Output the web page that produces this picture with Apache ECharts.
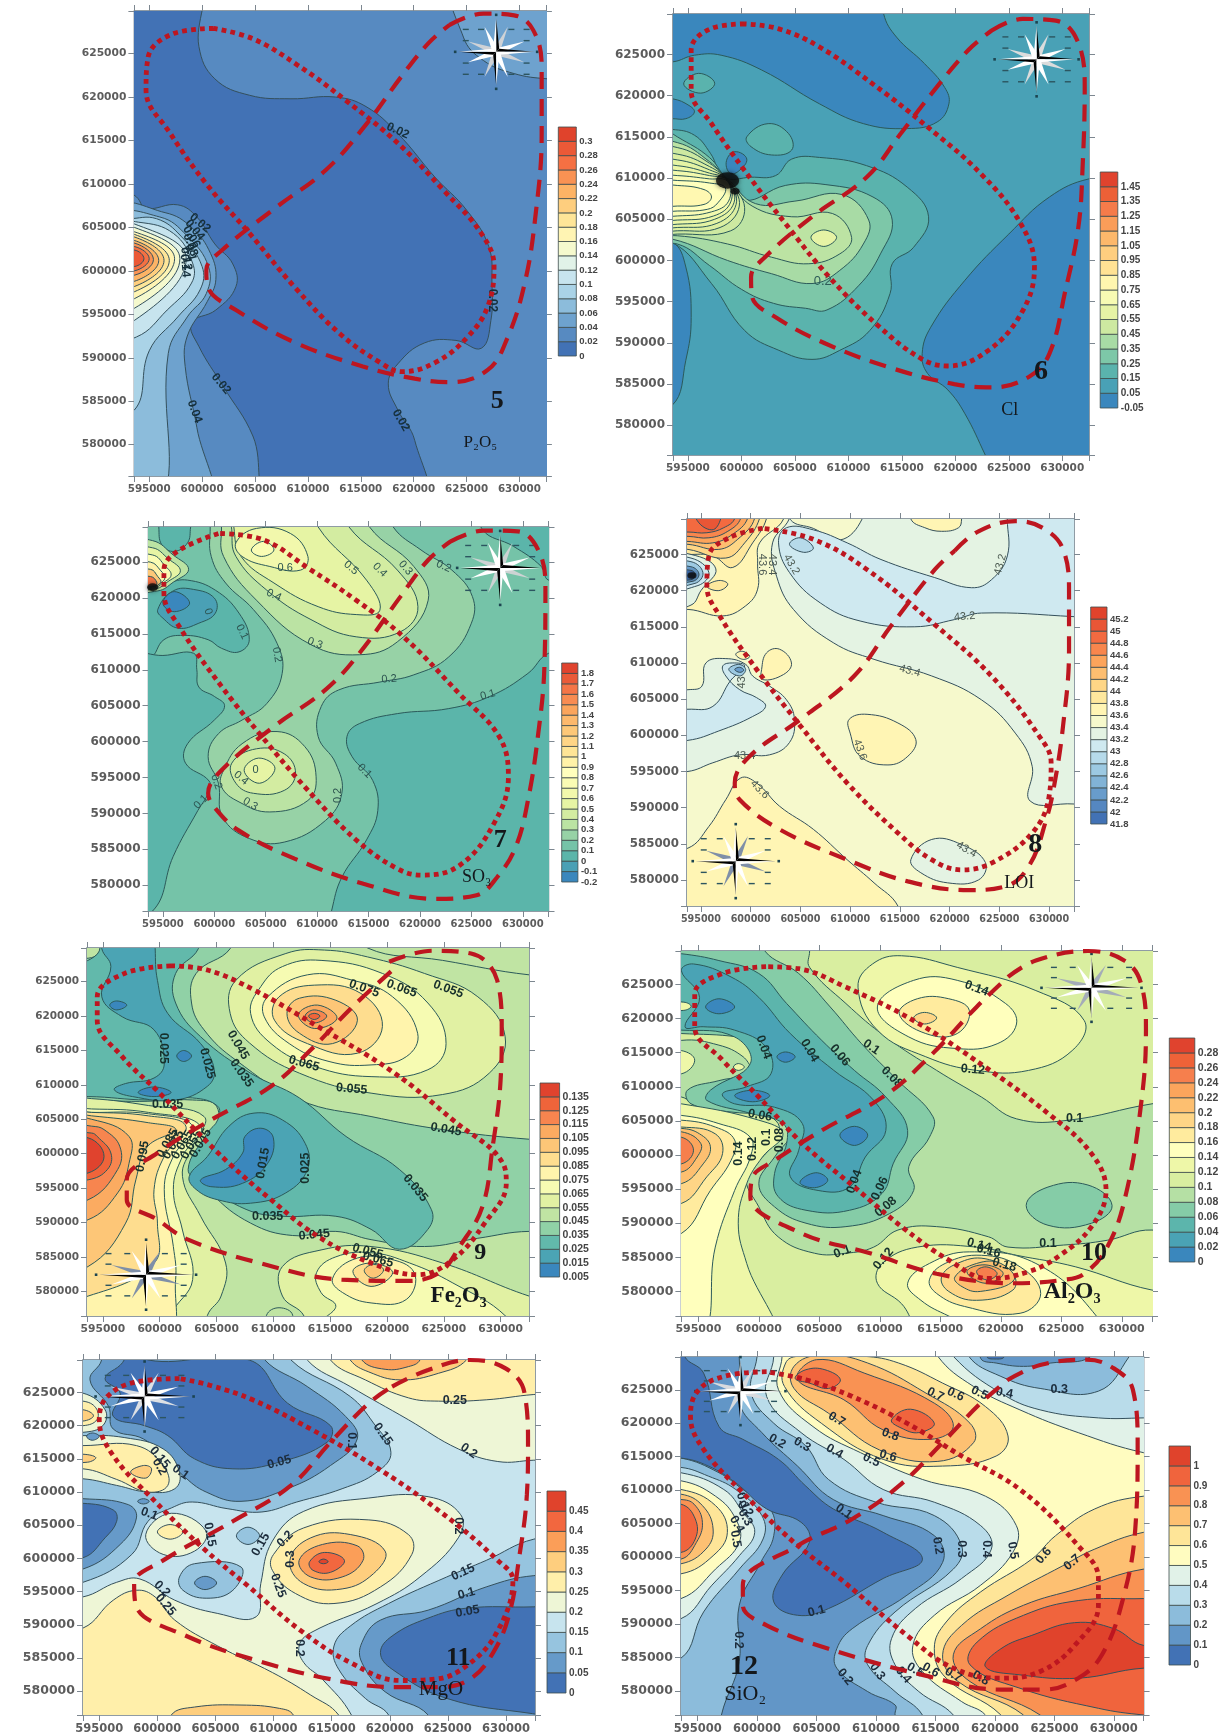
<!DOCTYPE html>
<html><head><meta charset="utf-8">
<style>html,body{margin:0;padding:0;background:#fff}#c{width:1223px;height:1735px}</style>
<script src="https://cdn.jsdelivr.net/npm/echarts@6/dist/echarts.min.js"></script>
</head><body><div id="c"></div>
<script>
// ---- Map extent, km (tick labels show metres) ----
const xRange=[593.6,632.5], yRange=[576.4,629.9];

// ---- Colour-bar labels ----
const p5Bar=['0','0.02','0.04','0.06','0.08','0.1','0.12','0.14','0.16','0.18','0.2','0.22','0.24','0.26','0.28','0.3'];
const p6Bar=['-0.05','0.05','0.15','0.25','0.35','0.45','0.55','0.65','0.75','0.85','0.95','1.05','1.15','1.25','1.35','1.45'];
const p7Bar=['-0.2','-0.1','0','0.1','0.2','0.3','0.4','0.5','0.6','0.7','0.8','0.9','1','1.1','1.2','1.3','1.4','1.5','1.6','1.7','1.8'];
const p8Bar=['41.8','42','42.2','42.4','42.6','42.8','43','43.2','43.4','43.6','43.8','44','44.2','44.4','44.6','44.8','45','45.2'];
const p9Bar=['0.005','0.015','0.025','0.035','0.045','0.055','0.065','0.075','0.085','0.095','0.105','0.115','0.125','0.135'];
const p10Bar=['0','0.02','0.04','0.06','0.08','0.1','0.12','0.14','0.16','0.18','0.2','0.22','0.24','0.26','0.28'];
const p11Bar=['0','0.05','0.1','0.15','0.2','0.25','0.3','0.35','0.4','0.45'];
const p12Bar=['0','0.1','0.2','0.3','0.4','0.5','0.6','0.7','0.8','0.9','1'];

// ---- Contour regions: [lower level of the band, [x,y, x,y, ...] in km], painted in order ----
const p5Regions=[
[0,[599.5,633,599.7,625.8,601.2,622.1,604.5,620.2,608.4,619.8,612.6,620,615.5,618.9,618.5,615.8,622,610.8,625,607,627.1,602.8,627.4,598.6,627.3,594.3,626.4,591.1,624,592,621,591.7,618.5,589.3,617.6,587,618.5,584,620.1,580.5,620.8,573,606.8,573,604.8,581,602,586.7,599.7,591.3,599,594,601.3,595.5,603.2,598.2,602.9,600.8,601.2,603.1,599.5,606.2,597.7,607.6,594.7,607.2,593.8,608.5,590,612,590,633]],
[0.04,[624,633,624.7,626.9,626.6,624.2,629.5,622.7,632.6,622.1,636,622,636,633]],
[0.04,[600.6,573,599.5,582,598.4,589,598.6,592.5,600.5,596.5,601.3,599,600.8,602,599,605,596.5,606.7,592,607,590,575]],
[0.06,[596,573,596.8,590.5,598.6,594.7,600.4,597.4,600.6,600.5,598.6,604,596,606.2,592,606,590,575]],
[0.08,[593.6,584,595,590.8,597.7,594.7,599.8,597.8,600,600.5,598,604,595.7,606,593,606,590,606,590,584]],
[0.1,[593.8,592.4,596.7,595.5,599,598.6,599.1,600.9,597.3,604.3,594,605.6,590,605.5,590,592]],
[0.12,[590,605.4,593.6,605.4,598.5,601.4,593.6,594.3,590,594.3]],
[0.14,[590,605,593.6,605,597.9,601.4,593.6,595.7,590,595.7]],
[0.16,[590,604.5,593.6,604.5,597.4,601.4,593.6,596.8,590,596.8]],
[0.18,[590,604.2,593.6,604.2,596.9,601.2,593.6,597.6,590,597.6]],
[0.2,[590,603.9,593.6,603.9,596.4,601.2,593.6,598.2,590,598.2]],
[0.22,[590,603.5,593.6,603.5,595.9,601.2,593.6,598.8,590,598.8]],
[0.24,[590,603.2,593.6,603.2,595.4,601.3,593.6,599.5,590,599.5]],
[0.26,[590,602.8,593.6,602.8,595,601.4,593.6,600,590,600]],
[0.28,[590,602.4,593.6,602.4,594.5,601.4,593.6,600.5,590,600.5]]
];
const p6Regions=[
[-0.05,[613.3,633,613.3,629.9,614.5,627.1,617.1,623.9,619,621,619.4,619,618.3,616.8,615.5,616,611.4,616.6,607.3,619,601.9,623.1,598.1,624.9,595.6,624.9,593.6,624.1,590,624,590,633]],
[-0.05,[590,620,593.6,619.6,595.1,618.8,595.6,618,594.8,617.2,593.5,617.2,590,617]],
[-0.05,[590,602,593.5,602.2,594.8,599.2,595.3,593.1,594.8,587.9,593.5,582.4,590,582]],
[-0.05,[636,610,632.5,609.9,628.8,607.7,625,603.2,620.9,597.6,617.7,591.9,616.9,588.7,617.4,586.3,619.3,584.3,620.9,581.4,622.8,576.4,624,573,636,573]],
[0.15,[600.5,615,602.5,616.6,604.4,615.4,604.7,613.4,602.8,612.8,600.9,613.8]],
[0.15,[594.6,621.4,596,622.7,597.5,621.5,596.2,620.3]],
[0.15,[590,616,593.5,615.9,595.6,615.2,597.1,613,598.4,610.1,600.9,610.1,603.2,610.3,604.7,612.3,607.3,612.5,611.7,611.5,615.5,608.9,617.5,605.3,616.1,601.6,614.1,599.6,613.9,596,612,591.5,609.2,589.1,606.6,588,603.5,589.1,600.3,591.5,597.2,597.2,593.5,602.2,590,602]],
[-0.05,[598.6,612.1,599.4,613.2,600.5,612.3,599.7,610.8,598.9,610.6]],
[0.25,[600.3,607.3,604.1,609.1,607.9,609.2,612.3,607.7,614.1,604.9,613,600.8,611,597,608,594,606,594.2,603,594.8,600,596.5,597,599.4,594,602,590,602,590,618,594,615,597,612.5,598.5,610]],
[0.35,[601.3,606.9,605,607.2,609.4,608,611.9,604.9,611.4,602,609.2,598.8,606.6,597.2,602.8,598.4,598.7,600,593.5,602.6,590,602.6,590,615,596,612.5,598.6,610]],
[0.4,[590,614.4,594,614.3,597,612,598.7,609.8,601,606.6,604.7,605.3,608.5,605.7,610.3,602.8,609.2,600.8,606.3,599.6,602.8,600.4,598.7,602,594,603,590,603]],
[0.45,[590,613.8,594,613.7,597,611.8,598.7,609.7,600.3,606.4,599,603.6,594,603.2,590,603.2]],
[0.55,[606.5,602.8,607.7,603.7,608.9,602.8,607.7,601.7]],
[0.5,[590,613,594,612.9,597,611.4,598.7,609.7,599.8,606.6,598,604,594,603.6,590,603.6]],
[0.54,[590,612.3,594,612.2,597,611,598.7,609.7,599.5,606.8,597.7,604.5,594,604,590,604]],
[0.58,[590,611.6,594,611.5,597,610.6,598.7,609.7,599.3,607,597.5,605,594,604.4,590,604.4]],
[0.62,[590,611,594,610.9,597,610.3,598.7,609.7,599,607.1,597.4,605.4,594,604.9,590,604.9]],
[0.66,[590,610.4,594,610.3,597,609.9,598.7,609.6,598.8,607.2,597.2,605.9,594,605.4,590,605.4]],
[0.7,[590,609.8,594,609.7,597,609.4,598.5,608.8,597.8,607,596.8,606.2,594,606,590,606]],
[0.74,[590,609.2,594,609.1,596.5,608.6,597.2,607.7,596.5,606.8,594,606.6,590,606.6]]
];
const p7Regions=[
[0,[611.4,576.4,612.4,581.1,614.8,586.3,615.9,590.4,615.4,594.6,613.4,597.9,612.9,600.7,614.1,602.5,617.8,603.9,622.8,604.6,626.8,606.3,630.5,609.5,632.5,612.3,636,613,636,573,611,573]],
[0,[626.1,633,626.1,629.5,629.1,627.2,631.8,624.4,632.5,622.5,636,622,636,633]],
[0,[590,611,593.7,611.6,595.1,614.2,597,614.8,599.4,614.2,600.7,613,602.4,612.5,603.4,614.2,602.4,617.9,600.1,621.1,597.4,622.5,595.4,622.1,594,621.5,590,621]],
[0,[590,575,594,576.4,596,584,598.4,590.4,599.4,592.8,599.5,594.5,597.2,597,597.4,599.7,600,603,601,605,600,606.3,598.5,607.6,598.3,610,598,612.3,595,612,590,612]],
[-0.1,[594.5,618.4,596,621,598,621.2,600,620,600.1,617.9,598.5,616.5,596.5,615.8,595,617.2]],
[-0.2,[595,619.3,596.1,620.9,597.6,619.3,596.1,618.1]],
[0,[594.6,633,594.6,629.9,594.9,627.4,596.1,626.5,597.4,627.7,597.7,629.9,598,633]],
[0.2,[599.6,633,599.6,629.9,599.7,625.8,601.1,622.1,603.8,618.4,606.1,613.7,606.6,609.5,605.1,605.3,602.7,603,600.4,601.1,599.4,597.9,600.4,594.2,600.8,589.5,603.4,586.5,606.8,586,610.8,589,612.4,592.8,611.8,597,610.1,600.7,610.4,604.9,612.1,607.2,616.1,608.3,619.4,609.3,622.8,611.8,625,616.5,625.1,620.2,623.1,623.9,620.1,626.7,617.4,629.9,617,633]],
[0.3,[600.7,633,600.7,629.9,600.9,625.8,604.1,619.7,609.4,613.5,614.1,612.1,617.8,613.9,620.8,619.7,619.4,624.4,615.1,629.9,615,633]],
[0.4,[601.7,633,601.7,629.5,602.1,625.8,605.1,621.1,609.4,617,613.8,614.6,618.1,615.3,619.8,618.8,617.8,623.9,613.1,629.9,613,633]],
[0.5,[601.9,633,601.9,629.9,602.6,625.8,605.8,622.1,610.1,618.8,613.8,617.7,616.1,618.3,614.8,622.5,610.1,629.9,610,633]],
[0.6,[602.1,627.7,604.1,629.7,607.4,629,609.1,625.8,608.4,623.9,605.4,624.4,602.7,625.8]],
[0.7,[603.6,626.7,604.8,627.9,605.8,626.7,604.6,625.8]],
[0.3,[600.9,596,602.7,599.7,606.1,601.4,608.8,599.3,609.9,595.1,609.1,591.8,605.4,590.2,602.4,591.6,600.7,593.7]],
[0.4,[601.7,597,604.1,599,606.8,598.3,607.9,595.6,606.8,593.2,603.8,592.8,602.1,594.2]],
[0.5,[602.9,596,604.3,597.7,605.9,596.3,604.4,594.2]],
[0.3,[590,628,594,628,596,626,597.5,624,596,622.2,594.5,621,590,621]],
[0.5,[590,627,594,627,595.5,625.5,596.7,623.8,595.5,622.3,594.3,621.3,590,621.2]],
[0.7,[590,626,594,626,595.2,624.5,595.8,623.2,595,622.1,594.1,621.4,590,621.3]],
[0.9,[590,625,593.8,625,594.8,623.8,595.2,622.8,594.6,621.9,594,621.5,590,621.4]],
[1.2,[590,624,593.8,624,594.5,623,594.8,622.2,594,621.6,590,621.5]],
[1.6,[590,623,593.8,623,594.4,622.2,594.2,621.7,590,621.5]]
];
const p8Regions=[
[43.2,[604,633,603.9,630,602.2,626.6,602.6,622,604.3,617.4,608.3,612.8,612.4,610.5,618.2,608.2,623.2,604.9,626.6,600.3,628.3,595.7,628.1,590.9,632.5,590.5,636,590,636,633]],
[43.4,[603.7,633,604,629.8,606.3,628.6,609,627,611.2,629.9,611.2,633]],
[43.6,[616,633,616.1,629.9,617.5,628.7,619.2,628.2,620.9,628.7,621.2,629.9,621.2,633]],
[43,[625.8,633,625.8,629.9,625.8,624.8,624.2,621.5,622.2,620.4,618.5,621.8,613.1,624.3,609.7,626.6,606.3,628.4,603.6,628.7,602.8,626.6,603.9,622.5,607,618.3,611,615.8,616.5,615,620.5,616,623.2,616.9,632.5,616.4,636,616,636,633]],
[42.8,[603.9,626.4,605,627.3,606.3,625.9,605.3,625.3]],
[43.2,[593.7,595,596.2,596.2,598.9,597.3,601.9,597.3,603.9,599,604.4,602.2,603.6,604.9,601.9,606.8,600.2,608.2,599.5,609.8,597.5,610.6,595.5,610,595.1,606.8,593.7,606.3,590,606,590,595]],
[43,[593.7,599.3,596.8,600.6,600.2,602.6,601.5,604,600.6,605.2,598.9,606.3,597.5,608.2,597.2,609.6,598.2,610,599.4,609.6,598,607.6,596.2,604,593.7,603.6,590,603.6,590,599.3]],
[42.6,[597.8,609.1,598.8,609.8,599.5,609.1,598.9,608.2]],
[42.2,[598.4,609.1,598.9,609.4,599.3,609,598.9,608.7]],
[43.6,[593.7,584.4,595.8,587.4,597.5,591.1,599,594.1,600.6,593.4,602.9,590.2,606.3,587,609.7,582.8,612.4,579.6,614.8,576.4,615,573,590,573,590,584]],
[43.6,[609.9,602.2,611.7,602.9,614.8,601.7,616.6,599.4,615.8,597.1,613.8,595.9,611,597.1,610,600.3]],
[43.6,[601.1,609.1,601.6,611.4,602.9,611.9,604.1,610,603.3,608.4,601.2,607.7]],
[43.6,[598.5,611.2,599.2,611.6,599.9,610.9,599.2,610.5]],
[43.6,[593.7,617.4,597.2,616.5,599.5,617.9,600.7,620.2,600.7,623.8,600.9,626.6,603.3,629.9,603,633,590,633,590,617]],
[43.8,[601.6,633,601.6,630,600.2,626.6,598.2,623.2,596.2,624.8,593.7,625,590,625,590,633]],
[44,[601,633,600.9,630,599.4,626.6,597.5,624.5,593.7,625.7,590,626,590,633]],
[44.2,[600,633,600.4,630,598.7,627.1,596.8,625.7,593.7,626.4,590,626.5,590,633]],
[44.4,[599.7,633,599.7,630,598.2,627.8,596.2,626.6,593.7,626.8,590,627,590,633]],
[44.6,[599,633,599,630,597.7,628.2,595.8,627.3,593.7,627.5,590,627.5,590,633]],
[44.8,[598.4,633,598.4,630,597.3,628.7,595.6,628,593.7,628.1,590,628,590,633]],
[45,[594.5,633,594.5,630,596.1,628.4,597,630,597,633]],
[43.8,[595.6,620.6,596.8,621.4,597.7,620.9,596.8,620]],
[43.2,[590,625,594,625,596.5,623,595,620,594,618,590,617]],
[43,[590,624.5,594,624.5,595.8,622.5,594.7,620.7,590,620]],
[42.6,[590,624,594,624,595.2,622.5,594.4,621,590,620.6]],
[42.2,[590,623.5,594,623.3,594.8,622.3,594.2,621.3,590,621]],
[41.8,[590,623,594,622.8,594.4,622.2,594,621.5,590,621.5]],
[43.2,[616.1,582.8,618.2,585.6,621.2,584.9,623.6,582.4,622.9,580,619.8,579.6,617.1,581]]
];
const p9Regions=[
[0.035,[606.2,633,606.2,629.8,603.2,626.2,602.8,621.9,603.9,618,606.7,613.6,612.3,607.8,618.6,605.4,624.9,603.5,632.5,602.1,636,602,636,588,632.5,588.7,628,587.7,623.3,586.5,618.6,587.5,615.5,588.7,611.7,588.1,608,589.9,604.5,594.3,603.2,597.7,604.8,602.5,605,606.9,602.9,607.8,598.2,607.6,593.7,607.8,590,608,590,628,594,628.5,595,630,595.5,633]],
[0.025,[603.4,633,603.4,629.8,601.4,626.2,601.4,621.9,603.6,617,608,611.7,612.3,608.1,616.4,602.5,621.1,597.7,623.9,591.9,623.6,589,621.1,586.1,618.6,589,615.5,590.9,610.8,590.9,607.6,591.9,603.9,595.7,602.5,597.7,604.2,603,605.1,604.9,605.1,606.9,602.9,608.1,598.9,607.8,593.7,608.3,590,608,590,625,594.5,629,595,633]],
[0.015,[594.9,633,594.9,629.8,595.7,627.2,594.9,622.8,596.7,619.9,599.5,618,600.4,613.1,599.5,611,597,610.2,596,609.3,597.6,608.3,601.4,607.8,604.2,609.8,604.8,612.2,603.6,616,600.7,620.4,599.8,625.2,599.6,629.8,599.6,633]],
[0.005,[595.6,621.6,596.2,622.2,597.1,621.6,596.2,620.9]],
[0.005,[601.5,614.2,602.1,615,602.8,614.2,602.1,613.4]],
[0.005,[598.1,608.9,599.5,609.7,601,608.9,599.5,608.3]],
[0.015,[602.6,596.7,604.2,599.6,606.1,604,608.3,605.9,610.8,604.9,612.8,601.5,613,597.7,611.1,594.3,608,592.8,605.1,593.3,603.2,594.8]],
[0.005,[603.6,596.2,605.8,597.7,607.3,600.1,607.5,602.5,608.9,603.7,610,602.3,609.5,598.6,607.3,595.7,604.5,595.2]],
[0.055,[611.1,629.1,606.7,625.2,606.2,620.4,607.9,616.1,612.3,611.7,618.6,608.8,624.9,608.6,629,611.7,630.4,617,628,622.8,623.3,626.2,618.3,628.6,614.5,629.6]],
[0.065,[608.9,624.3,608,620.4,609.8,616,613.6,612.7,618.6,611.2,623.6,612.2,625.2,616,623.6,621.9,619.6,626.2,614.2,628.1,610.8,627.2]],
[0.075,[609.5,622.8,609.2,619.9,611.4,616,614.9,613.4,618.6,612.9,621.7,614.1,622.7,617.5,620.5,622.8,617,625.2,613,626]],
[0.085,[610.5,622.8,610.1,619.4,613,616,617.4,614.6,619.6,618.5,617.7,623.3,613.6,624.5]],
[0.095,[611.2,620.4,612.3,617.5,615.2,616,617.4,619.4,615.5,622.3,612.3,622.6]],
[0.105,[612.2,620.2,613.6,618.2,615.6,619.7,613.9,621.6]],
[0.115,[612.8,620,613.6,619,614.7,620,613.6,620.9]],
[0.125,[613.1,620,613.6,619.5,614.1,620,613.6,620.4]],
[0.045,[618.3,633,618.3,629.9,624.9,628.1,632.5,626,636,626,636,633]],
[0.055,[603.9,605.4,602.9,601.1,602,596.7,603.6,590.9,605.8,584.1,605.4,579.3,604.2,576.5,604,573,590,573,590,608,594,608,599,607]],
[0.055,[610.8,583.6,614.2,586,618.6,586.5,624.9,584.1,632.5,579.3,636,578,636,573,612.7,573,612.7,576.4,610.8,579.3]],
[0.045,[609.4,576.5,610.5,577.6,611.7,576.5,611,573,609.5,573]],
[0.065,[613.8,582.7,615.5,585,618.6,585.6,622,584.1,625.8,581.2,630.5,576.3,631,573,620,573,614,575,615.5,577.8,614.2,579.8]],
[0.075,[615.2,581.8,617,584.6,619.9,584.8,622.4,582.7,621.7,578.8,618.6,578.3,616.1,579.8]],
[0.085,[617,582.9,618.6,584.1,620.5,582.7,618.6,580.7]],
[0.095,[618,583,618.8,583.9,619.7,583.1,618.8,581.9]],
[0.065,[603.6,604,602,599.6,601.2,594.8,602,588.9,602.9,581.7,601,576.5,601,573,590,573,590,606.5,594,606.5,599,606]],
[0.075,[602.9,604,601.2,599.6,600.4,594.8,601.2,586.5,601.4,581.7,600.5,573,590,573,590,606,594,606,599,605.8]],
[0.085,[602.3,604,600.4,599.6,599.5,594.8,599.8,589.9,599.5,584.1,593.7,579.3,590,579,590,606,594,606,599,605.5]],
[0.095,[601.4,603.5,598.9,601,597.9,596.2,597,589.9,593.7,583.6,590,583,590,606,594,605.5,599,604.5]],
[0.105,[597.3,602.5,597.3,598.6,596.3,594.3,593.7,590.4,590,590,590,605.5,594,605]],
[0.115,[595.1,603.5,596.5,601,596.3,597.7,593.7,593.3,590,593,590,604.5,594,604]],
[0.125,[594.5,602.5,595.7,600.1,595.4,597.7,593.7,596.2,590,596,590,603,594,603]],
[0.135,[593.7,602.3,595.1,599.6,593.7,597.2,590,597,590,602]]
];
const p10Regions=[
[0.08,[604.2,633,604.2,629.9,604.2,627.5,607.2,622.2,610.5,617.3,614.7,612.4,618.4,608.5,621.3,605.3,625.6,605.1,632.5,607.5,636,608,636,587,632.5,589,628.8,587.5,625.2,586.8,620.6,586.5,619,588,614.7,589.5,611.5,589,609.5,586.5,607.2,585.6,604.6,585.6,601.6,588,600,592.4,599,596.8,601,601.2,601.6,604.6,599.3,606.3,595.1,606.8,593.6,608.5,590,608.5,590,615,593.6,616.8,596.7,616.1,598.7,614.4,599.8,612,600,617,598,619.7,593.6,621.2,590,621,590,630,600,633]],
[0.06,[600.5,633,600.5,629.9,603.3,626.6,605.9,621.7,608.5,616.3,611.5,610.9,614.4,605.6,614.1,602.6,612.4,598.3,612.8,594.8,610.8,591.4,607.2,589.5,603.9,590,601.3,592.4,600,595.8,601.3,599.7,602.9,603.6,602.6,605.6,597.7,606.3,594.4,607.5,594.1,609.5,596.7,610.9,600,612.4,600.3,616.3,598.3,617.3,593.6,617.8,590,618,590,630,596,633]],
[0.06,[622.1,592.6,623.9,595.3,627.2,595.6,629.2,592.6,627.5,590,623.9,589.7]],
[0.04,[590,630,593.6,629.5,596.7,628.5,600,626.6,602.3,622.2,605.2,616.8,607.9,612.4,610.5,608.5,612.3,603.6,611.1,598.7,610.2,594.4,607.5,591.9,603.9,591.9,601.6,593.9,601.3,597.3,602.3,601.7,602,604.6,599.3,606.1,595.7,608,596,609.5,599.3,613.4,598,617.3,593.6,618.3,590,618]],
[0.02,[593.6,627,594.6,628,597.7,626.1,600,623.1,602.6,617.8,606.2,612.4,609.5,608,610.5,603.6,608.8,599.7,607.5,595.3,604.9,594.8,602.6,596.8,603.3,600.7,603.6,604.6,601.3,607,598,607.5,597,609,599,610,601,611.9,600.6,615.8,598,618.3,595.4,618.8,593.9,618.8,595.1,623.1]],
[0,[595.6,621.7,596.7,622.9,598,621.7,596.7,620.7]],
[0,[601.5,614.4,602.2,615.1,603,614.4,602.2,613.6]],
[0,[598,608.7,599.5,609.5,600.9,608.7,599.5,607.8]],
[0,[606.7,602.9,607.9,604.2,609,602.9,607.9,601.4]],
[0,[603.4,596,604.7,597.4,605.7,596.3,604.6,595.2]],
[0.12,[608.2,624.6,609.4,628,611.8,629.2,616.4,627.5,622.9,624.1,626.9,619.7,625.9,615.3,622.3,612.4,618,612.4,613.8,614.4,609.8,618.3]],
[0.14,[609.8,621.7,612.8,625.6,616.4,625.6,620.4,622.2,621.3,619.2,619.7,616.3,616.4,615.6,612.4,617.3]],
[0.16,[611.6,620.7,613.1,622.9,615.7,622.9,617.4,621.2,616.4,617.8,613.8,617.8]],
[0.18,[612.8,620.1,613.7,620.9,614.7,620.1,613.7,619.2]],
[0.12,[601.1,573,599,584.1,598.3,590,599,595.8,600.3,599.7,602,603.1,600,605.1,593.6,607.5,590,608,590,575]],
[0.14,[595.1,573,596.4,586.5,598,594.8,599.3,599.7,599.3,602.6,596.7,604.6,593.6,605.8,590,606,590,575]],
[0.16,[593.6,588.5,596,594.8,597.7,599.2,598,602.2,596.4,604.1,593.6,605.1,590,605,590,588]],
[0.18,[593.6,592.9,595.7,596.8,597,600.2,596.4,603.1,593.6,604.1,590,604,590,593]],
[0.2,[593.6,595.8,595.4,598.7,596,601.2,595.1,603.1,593.6,603.9,590,603.9,590,595.8]],
[0.22,[593.6,597.5,594.9,599.7,595.2,601.7,593.6,603.4,590,603.4,590,597.5]],
[0.24,[593.6,598.7,594.6,600.7,593.6,602.6,590,602.6,590,598.7]],
[0.12,[614.1,573,611.8,578.2,609.8,581.2,610.2,584.1,613.1,586.5,618,586.5,621.3,585.3,626.2,583.6,632.5,580.2,636,580,636,573]],
[0.14,[612.3,581.2,614.1,584.1,617.4,585.8,622.9,584.1,627.9,576.4,628,573,620,573,615.7,576.4,613.4,578.7]],
[0.16,[614.1,581.7,615.4,584.1,618.4,585.3,621.6,583.6,623.3,579.7,621.6,576.8,617,577.8,614.7,579.7]],
[0.18,[615.1,582.1,616.4,584.1,618.7,584.8,621,582.6,621,580.2,618,578.7,615.7,580]],
[0.2,[616.2,582.1,618,584.1,620,584.1,621.1,581.7,618.3,580,616.8,580.7]],
[0.22,[617.2,582.9,618.7,583.9,620.2,582.6,618.7,581.2]],
[0.24,[618,582.9,618.8,583.6,619.7,582.6,618.8,581.7]],
[0.12,[590,615.3,593.6,615.3,594.7,613.9,593.6,611.9,590,612]],
[0.12,[597.9,612.9,598.3,613.4,598.8,612.9,598.3,612.4]],
[0.12,[590,622.5,593.8,622.4,594.4,621.8,593.8,621.2,590,621.2]]
];
const p11Regions=[
[0.2,[590,594,593.6,594.2,596.5,596.4,598.5,596.9,601.5,593.7,605.2,591.7,608.5,591.2,608.9,596.2,609.9,602.6,612.6,607.1,618.2,609.1,623.3,609.3,626.1,606.6,625.9,603.1,622.6,597.2,618.9,593.2,613.2,588.8,612.2,586.8,612.6,584.3,614.2,581.8,616.7,576.4,617,573,590,573]],
[0.2,[612.9,633,612.9,629.9,616.6,625.9,621.6,620.9,625.9,616.5,629.3,614.6,632.4,614.8,636,615,636,633]],
[0.25,[615,633,614.9,629.9,617.9,626.9,621.6,624.2,624.2,623.7,628.3,623.9,632.4,624.7,636,625,636,633]],
[0.3,[616,633,616.6,629.9,618.2,628.1,620.9,626.9,624.2,627.9,626.6,629.9,627,633]],
[0.35,[617.5,633,617.6,629.9,619.6,628.5,621.6,628.9,622.6,629.9,623,633]],
[0.25,[610,600.6,612.6,604.6,618.2,605.8,621.6,603.6,621.9,600.6,619.2,595.7,615.2,593.2,611.9,594.7,609.9,598.2]],
[0.3,[611.4,599.7,613.2,603.1,616.6,603.6,619.6,601.1,618.6,597.7,615.9,595.4,612.6,596.2]],
[0.35,[612.2,599.7,614.2,602.1,617.2,601.9,617.7,599.7,615.9,597.2,613.2,597.2]],
[0.4,[613.1,599.5,614.4,600.9,616.1,599.7,614.9,597.9,613.4,598.2]],
[0.45,[613.9,599.5,614.3,599.9,614.7,599.5,614.3,599.2]],
[0.25,[593.6,589.5,596.2,593.7,598.2,595.2,599.8,594.2,601.5,590.7,605.2,586.8,609.9,582.8,613.2,579.4,615.6,576.4,616,573,590,573,590,589]],
[0.3,[601.2,573,601.2,576.4,603.2,577.6,607.2,577.9,610.5,577.4,611.7,576.4,612,573]],
[0.1,[611.5,633,611.5,629.9,616.6,624.4,618.6,620.4,620.1,616,618.9,613,615.9,610.5,612,608.5,609,607,606,607.5,603,608.5,601.2,607.6,599.2,605.6,597.8,600.6,593.6,596.4,590,596,590,633]],
[0.1,[601.9,597.2,603.2,599.2,607.2,598.7,606.5,595.2,604.2,594,602.2,595.2]],
[0.05,[603.2,596.3,604.1,597.3,605.1,596.3,604.1,595.3]],
[0.1,[606.8,603.4,607.8,604.7,608.8,603.4,607.8,602.1]],
[0.2,[599,603.6,601.2,606.8,604.2,604.1,603.2,601.1,600.5,600.6]],
[0.25,[600,604,601.1,605.1,602.2,604,601.1,602.9]],
[0.05,[609.2,633,609.2,630,612.9,625.9,616.2,621.4,617.2,618,614.9,614,611.2,610.5,607.2,608.6,604.2,610,602.2,612.5,601.2,614.5,598.8,618,596.2,619.5,595.8,622.9,594.2,626.9,595.2,629.9,595,633]],
[0,[598,633,599.2,629.9,607.9,629.9,611.2,623.4,614.9,620,614.6,617.5,610.5,614.5,606.5,613.5,603.2,615,600.9,618.5,598.9,620,596.2,621.4,596.8,624.9,595.5,627.1,597,629.5]],
[0.05,[593.6,609,597.5,608.1,598.2,606.1,596.8,602.1,593.6,598.4,590,598,590,609]],
[0,[593.6,608.3,596.2,607.3,596.5,605.6,595.5,603.1,593.6,600.1,590,600,590,608]],
[0.05,[598.3,608.6,598.8,609,599.3,608.6,598.8,608.2]],
[0.1,[632.4,602.9,628.3,599.7,624.9,597.2,619.9,593.2,616.6,589.8,615.2,586.8,615.6,583.3,617.9,578.9,619.9,576.4,620,573,636,573,636,603]],
[0.05,[632.4,597.4,628.3,595.7,623.3,592.2,619.2,590.7,617.6,587.3,617.6,584.3,619.6,579.9,623.3,576.4,623,573,636,573,636,597]],
[0,[632.4,592.7,626.6,592.5,623.3,591,620.2,588.3,619.2,585.8,620.2,583.3,624.9,578.9,632.3,576.6,636,576,636,593]],
[0.2,[593.6,618.5,597.2,618.2,600.5,616.5,601.9,613,601.5,610.5,599.2,610,596.5,611,593.6,612,590,612,590,618]],
[0.25,[593.6,617,598.2,617,600.5,614,600.9,611,599.2,610,596.5,611.9,593.6,613.5,590,613,590,617]],
[0.3,[597.7,613,598.8,614,599.5,613.5,599,612.1]],
[0.3,[590,615.7,593.6,615.7,594.7,615.2,594,614.5,590,614.5]],
[0.2,[593.6,624.9,595.5,622.4,595.3,620,593.6,619,590,619,590,625]],
[0.25,[593.6,623.7,594.7,622.7,594.8,620.9,593.6,620,590,620,590,624]],
[0.3,[593.6,622.4,594.5,621.5,593.6,620.7,590,620.7,590,622.4]],
[0.05,[593.9,618.4,594.4,618.9,595,618.4,594.4,617.8]]
];
const p12Regions=[
[0.2,[598,633,598.5,629.7,598.5,623,600.4,618.6,603.4,613.6,606.4,608.6,610.6,606.2,614.9,603.2,615.6,599.2,612.6,594.3,608,589.3,606.7,586.3,606.7,583.4,609.3,579.9,611.6,577.9,611.6,576.4,612,573,636,573,636,633]],
[0.2,[597,573,597,576.4,598.5,584.4,598.5,592.8,600.3,599.2,601.4,603.2,601.1,607.2,598.8,610.1,596.8,612.6,593.6,614.8,590,615,590,573]],
[0.3,[593.6,584.9,595.5,591.8,598.5,598.2,600.5,602.7,600.4,606.2,598.2,610.1,595.9,612.1,593.6,613.4,590,613.4,590,585]],
[0.4,[593.6,590.8,596.2,595.8,598.5,600.2,599.8,603.7,598.8,606.7,597.2,610.1,593.6,612.6,590,612.6,590,591]],
[0.5,[593.6,593.8,596.5,598.2,598.5,602.2,598.2,605.7,596.5,609.1,593.6,611.4,590,611.4,590,594]],
[0.6,[593.6,597.5,596.3,600.2,597.5,603.7,596.5,607.7,593.6,610.1,590,610,590,598]],
[0.7,[593.6,599,595.7,601.2,596.3,604.2,595.4,607.7,593.6,609.4,590,609.4,590,599]],
[0.8,[593.6,599.7,594.9,602.2,595.4,605.2,594.7,607.9,593.6,608.6,590,608.6,590,600]],
[0.9,[593.6,600.7,594.8,602.7,594.8,605.7,593.6,607.9,590,608,590,601]],
[0,[594,633,593.9,630,595.5,627.5,596.8,619.5,598.8,617.6,601.8,614.6,604.1,610.6,606.4,607.2,610.6,603.7,613.9,599.7,610.6,596.8,606,592.3,603.4,591.3,601.4,593.3,602.1,597.3,604.4,602.2,603.7,605.2,600.8,607.2,598.2,611.1,595.9,613.6,593.6,614.8,590,615,590,633]],
[0.3,[600,633,600,630,599.5,624.5,601.4,620,604.1,616.6,606,611.6,610,608.2,614.9,606.2,617.2,601.7,616.5,598.2,611.6,591.8,609.3,586.8,609.3,583.9,611.6,579.9,613.9,576.4,614,573,636,573,636,633]],
[0.4,[601,633,601.4,630,600.8,624,603.7,618.6,607.3,614.6,610.6,610.1,614.9,608.2,618.8,604.7,619.7,601.2,617.2,596.8,613.3,592.3,611.3,587.8,611.6,583.9,613.6,579.9,616.5,576.4,617,573,636,573,636,633]],
[0.5,[602,633,602.1,630,601.8,625,604.7,619.5,608.7,615.6,613.9,611.6,619.2,609.1,621.8,604.7,621.5,600.7,618.8,595.8,614.9,591.3,613.1,586.8,613.9,582.9,617.2,578.4,619.2,576.4,620,573,636,573,636,633]],
[0.4,[615,633,615.2,630,618.2,625.5,622.1,622,627,618.6,632.5,615.6,636,615,636,633]],
[0.3,[616,633,616.5,630,620.5,624.5,623.8,622,628.7,620.8,632.5,620.8,636,621,636,633]],
[0.2,[618,633,617.8,630,620.5,627,623.8,625.2,628.7,624.8,631.3,630,632,633]],
[0.1,[619,633,618.8,629.7,620.1,629,622.4,628.5,624.7,629,628,629.9,628,633]],
[0,[619.3,633,619.3,630,620,629.6,620.8,630,620.8,633]],
[0.6,[602.4,629,602.3,625.5,605.4,620,610.6,614.6,615.6,613.6,620.1,615.1,621.1,618.1,619.2,622.5,615.6,626,611.9,629,609,630,603.4,630]],
[0.7,[603.1,628.5,603.1,625.2,606,621.5,610.3,616,615.2,614.3,618.2,617.1,617.9,620,614.2,624.5,609.3,629,605.4,630.2]],
[0.8,[603.4,626.5,607.3,623.5,610.6,619,614.6,617.6,616.5,619.5,614.9,623,609,627.5,605,629.5]],
[0.9,[603.2,626.7,604.1,628,605.7,628,607,626.5,606,625.2,604.4,626]],
[0.9,[611.3,620.5,612.9,622.1,614.9,620,613.6,618.6,612.1,619.3]],
[0.6,[632.5,609.1,628.4,607.2,625.1,603.2,623.1,599.7,618.8,594.8,615.9,590.3,614.9,586.3,615.9,581.9,620.5,576.4,621,573,636,573,636,609]],
[0.7,[632.5,603.7,628.4,601.2,625.7,598.7,621.1,594.3,617.2,589.8,615.6,585.4,616.9,581.4,622.4,576.4,623,573,636,573,636,604]],
[0.8,[632.5,598.2,627,595.3,622.4,592.8,618.8,589.3,616.5,585.4,617.9,581.4,623.8,576.4,625,573,636,573,636,598]],
[0.9,[632.5,593.8,627,593.5,622.4,591.3,618.5,587.3,617.9,583.9,622.1,580.4,628.7,577.4,632.5,576.4,636,576,636,594]],
[1,[632.5,586.8,630,589.3,626.7,590.2,623.1,588.3,620.5,586.3,619.2,583.6,622.1,582.4,627,581.9,632.5,583.4,636,583,636,587]]
];

// ---- Red field boundaries, km ----
const p5Dotted=[[601.1,627.9],[597.3,627.3],[594.9,624.6],[594.7,620.8],[597,615.8],[600.6,609.7],[604.5,604.3],[608.7,598.2],[613,592.8],[616.9,589.4],[618.9,588.4],[622.1,589.5],[625.1,592.4],[627,595.9],[627.6,600.5],[626.4,604.3],[622.8,609.3],[618.5,614.7],[613.6,619.6],[609,623.7],[604.8,626.7],[601.1,627.9]];
const p5Dashed=[[623.4,628.3],[626.6,629.6],[629.5,629.4],[631.3,627.7],[632.1,623.5],[632.1,615.8],[631.5,606.2],[630.5,598.6],[628.9,592.4],[627,588.6],[623.4,587.2],[620.1,587.6],[615.2,589],[608.7,591.8],[603.2,595.5],[600.6,598],[600.4,600.1],[601.9,602.4],[607.1,607.4],[611.7,611.6],[615.6,617],[618.8,622.3],[621.4,626.2],[623.4,628.3]];
const p6Dotted=[[600.3,628.7],[597.1,628.1],[595.3,625.5],[595.3,620.6],[597.2,616.6],[600.3,610.9],[604.1,604.5],[608.2,598],[612.6,592.3],[616.8,588.1],[619.3,587.2],[623.1,589.1],[626.3,593.9],[627.4,599.2],[626.1,604.5],[622.4,610.5],[617.4,616.2],[612.3,621.4],[607.3,625.9],[603.5,628.1],[600.3,628.7]];
const p6Dashed=[[623.4,627.9],[626.3,629.3],[629.4,629.1],[631.4,626.7],[632.1,621],[631.9,611.3],[631.5,604],[630.3,596.4],[628.8,588.7],[626.9,585.9],[623.4,584.6],[619.9,585],[613.9,587],[607.9,589.9],[603.2,593.1],[601,595.6],[600.9,598],[602.2,600.4],[606.6,605.3],[611.7,610.1],[614.9,615.4],[618,620.6],[621.2,625.5],[623.4,627.9]];
const p7Dotted=[[600.4,629],[596.4,626.5],[595.1,623.9],[595.1,620.7],[596.7,615.8],[600.7,607.7],[604.4,601.1],[608.8,593.7],[613.8,586.3],[617.8,582.3],[620.2,581.4],[623.9,582.8],[627.2,588.6],[628.6,595.1],[627.7,600.7],[623.8,606.7],[618.4,614.6],[613.8,619.7],[609.1,624.2],[604.8,628.1],[600.4,629]];
const p7Dashed=[[623,627.9],[626.2,629.4],[629.5,629.3],[631.5,626.7],[632.2,621.6],[632.1,610.4],[631.5,601.1],[630.5,591.8],[629.3,585.3],[627.5,581.1],[625.5,578.6],[621.5,578.1],[614.5,580.2],[607.8,583.7],[602.4,587.6],[600.1,590.7],[599.4,592.8],[600.7,596],[605.8,602.1],[610.8,607.2],[614.1,612.3],[618.1,620.2],[620.8,625.3],[623,627.9]];
const p8Dotted=[[601.2,628.6],[597.8,627.3],[595.8,624.8],[595.6,620.6],[596.8,616.7],[600.6,609.1],[605,601.3],[609.7,593.4],[614.8,586.5],[618.2,582.8],[621.2,581.4],[624.3,582.4],[628.3,586.5],[630,591.6],[630.2,596.2],[629,599.9],[624.2,608.2],[618.5,615.3],[611.7,622.9],[606.3,627.1],[601.2,628.6]];
const p8Dashed=[[620.5,625.5],[622.9,628.2],[626.6,629.6],[629.3,628.7],[631.4,625.7],[632,619.7],[632,611.9],[631.4,601.3],[630.5,593],[629.7,588.3],[628,582],[625.6,579.1],[621.9,578.6],[615.8,579.8],[609.7,582.8],[602.9,587],[598.9,591.1],[598.4,593.4],[599.9,597.1],[605,602.2],[610.4,608.2],[614.1,615.1],[618.5,622.9],[620.5,625.5]];
const p9Dotted=[[601,627.3],[596.9,626.2],[594.5,622.8],[594.5,619.4],[596.7,614.1],[600,608.8],[603.1,603.5],[606.1,598.6],[609.8,593.3],[613.9,588],[618.6,584.1],[622.7,582.4],[625.8,584.6],[628.6,589.9],[630.5,595.7],[630.2,598.6],[625.8,604.9],[620.5,611.9],[613.9,618.5],[608.3,623.8],[604.2,626.7],[601,627.3]];
const p9Dashed=[[620.2,627.9],[624,629.5],[627.4,629.1],[629.7,625.2],[630.1,618],[630,610.7],[629.3,601],[628.4,592.3],[626.4,586.5],[624.6,582.7],[621.7,581.5],[616,581.7],[608.8,584.1],[602.5,587.5],[599.8,590.4],[597.1,593.3],[597.1,596.2],[599.8,600.1],[604.5,604.9],[609.8,609.8],[613.3,615.1],[617,621.4],[620.5,626.7]];
const p10Dotted=[[600.6,627.6],[597,626.6],[594.7,623.6],[594.7,618.8],[597,613.9],[600,608.5],[603.6,601.7],[607.9,595.3],[611.8,589.5],[615.7,584.6],[619,581.9],[622.3,582.9],[624.9,585.3],[627.5,589.5],[628.7,594.8],[627.5,600.2],[623.9,606.1],[618.7,612.9],[612.8,619.7],[607.2,624.6],[603.3,627.3],[600.6,627.6]];
const p10Dashed=[[620.6,626.1],[622.9,628.5],[627.2,629.9],[630.2,628.5],[631.6,625.1],[632,618.3],[631.6,607.5],[630.3,593.9],[628.8,586.5],[626.9,582.6],[625.2,581.7],[621,581.2],[614.7,582.6],[609.2,585.6],[603.3,588.7],[599.3,593.9],[599.5,596.8],[601.3,599.2],[605.2,603.6],[610.5,608.8],[614.1,614.4],[618,621.7],[620.6,626.1]];
const p11Dotted=[[601.9,627.1],[598.2,626.6],[595.7,624.4],[595,620.9],[596.2,615.5],[599.8,608.6],[603.9,601.6],[607.9,595.7],[612.2,589.3],[616.6,584.3],[620.9,581.6],[623.9,581.8],[626.6,583.8],[629.2,588.8],[630.6,596.7],[629.3,599.7],[624.3,607.1],[618.6,614],[613.2,619.5],[608.2,623.9],[604.5,626.1],[601.9,627.1]];
const p11Dashed=[[620.2,625.9],[623.3,628.4],[626.9,629.9],[630,628.6],[631.6,624.9],[631.9,617],[631.8,609.6],[631.1,599.7],[630.3,591.7],[628.9,585.8],[626.9,581.8],[624.3,580.6],[620.6,580.6],[614.9,581.8],[608.2,584.8],[602.5,588.3],[598.2,592.7],[598,596.2],[600.5,599.7],[606.5,605.6],[611.5,611],[614.9,617.5],[618.2,623.4],[620.2,625.9]];
const p12Dotted=[[600.8,627.7],[597.2,627],[595,624.8],[594.4,621],[595.5,616.1],[598.8,609.6],[603.1,602.2],[607.3,596.3],[612.6,588.3],[616.5,583.4],[620.5,581.9],[623.8,582.9],[626.7,586.8],[628.7,592.8],[628.7,596.8],[627,601.7],[622.1,610.1],[617.2,615.1],[612.6,620],[608,624],[604.1,626.5],[600.8,627.7]];
const p12Dashed=[[621.1,626.5],[623.8,628.7],[627.7,629.5],[630,628.2],[631.6,625],[632,616.6],[631.8,604.2],[630.7,593.3],[629,585.4],[627,581.9],[624.1,580.2],[620.5,580.2],[613.9,582.4],[606,586.3],[600.8,589.8],[598.8,592.8],[598.8,595.8],[603.4,601.7],[608,605.7],[611.9,610.6],[615.6,617.1],[618.8,623],[621.1,626.5]];

// ---- Contour labels: [text, x, y, rotation degrees] ----
const p5Labels=[['0.02',618.5,616.1,-25],['0.02',627.4,596.6,-90],['0.02',601.8,587,-50],['0.02',618.8,582.8,-60],['0.04',599.3,583.8,-70],['0.02',599.8,605.5,-40],['0.04',599.3,604.7,-50],['0.06',599,603.9,-60],['0.08',598.9,603,-70],['0.1',598.9,602.1,-75],['0.12',598.5,601.4,-80],['0.14',598.4,600.6,-85]];
const p6Labels=[['0.2',607.6,597.5,0]];
const p7Labels=[['0.6',606.9,624.2,0],['0.5',613.3,624.2,-40],['0.4',616.1,623.9,-45],['0.3',618.6,624.2,-50],['0.2',622.3,624.4,-25],['0.4',605.8,620.4,-25],['0.3',609.8,613.7,-20],['0.2',606.1,612.1,-80],['0.1',602.7,615.3,-65],['0',599.4,618.1,-70],['0.2',617,608.7,5],['0.1',626.6,606.5,15],['0.1',614.6,595.9,-45],['0.2',612,592.5,90],['0.2',600.2,594.4,-70],['0.4',602.6,594.9,-40],['0.3',603.5,591.3,-30],['0.1',598.7,591.6,45],['0',604,596,0]];
const p8Labels=[['43.2',604.1,623.6,-60],['43.2',625.1,623.6,75],['43.2',621.5,616.4,5],['43.6',601.1,623.6,-90],['43.4',602.1,623.6,-90],['43.4',616,608.9,-15],['43.6',611,598,-70],['43.6',600.9,592.5,-45],['43.4',621.7,584.2,-30],['43.4',599.4,597.1,0],['43',599.1,607.3,90]];
const p9Labels=[['0.075',618,624,-20],['0.065',621.3,624,-20],['0.055',625.4,623.9,-20],['0.065',612.7,613.1,-15],['0.055',616.9,609.4,-5],['0.045',606.9,615.8,-60],['0.035',607.2,611.7,-55],['0.025',600.3,615.3,-90],['0.025',604.2,613.1,-75],['0.035',600.7,607.1,0],['0.045',625.2,603.5,-10],['0.035',622.5,595,-50],['0.025',612.8,597.9,90],['0.015',609.1,598.6,80],['0.035',609.5,590.8,0],['0.045',613.6,588.2,5],['0.055',618.3,585.8,-15],['0.065',619.2,584.6,-15],['0.095',598.5,599.6,80],['0.085',600.7,601.5,60],['0.075',601.2,601.3,60],['0.065',602,601.3,60],['0.055',602.8,601.3,60],['0.045',603.6,601.5,60]];
const p10Labels=[['0.14',618,624.4,-20],['0.1',609.3,615.8,-35],['0.12',617.7,612.5,-5],['0.08',611,611.4,-45],['0.06',606.7,614.6,-50],['0.04',604.2,615.3,-60],['0.04',600.4,615.8,-70],['0.1',626.1,605.3,0],['0.06',600.1,605.8,-10],['0.1',600.6,602.6,90],['0.08',601.7,602.2,90],['0.12',599.5,600.9,90],['0.14',598.3,600.2,90],['0.04',607.9,596.1,70],['0.06',610,595.1,65],['0.08',610.5,592.4,40],['0.1',623.9,587,0],['0.1',606.9,585.8,20],['0.12',610.3,584.8,50],['0.14',618.2,586.8,-15],['0.16',619,585.9,-15],['0.18',620.3,583.9,-15]];
const p11Labels=[['0.25',625.6,623.8,0],['0.15',619.4,618.7,-55],['0.1',616.7,617.7,-90],['0.2',626.8,616.2,-35],['0.05',610.5,614.5,15],['0.1',602,613,-35],['0.15',600.2,615.2,-50],['0.2',600.2,613.8,-60],['0.1',599.3,606.7,-20],['0.15',604.5,603.6,-80],['0.15',608.9,602.1,60],['0.2',611,602.9,45],['0.3',611.5,599.9,90],['0.25',610.4,595.9,-70],['0.2',625.9,604.9,-90],['0.15',626.3,597.9,25],['0.1',626.6,594.7,15],['0.05',626.7,592,10],['0.2',612.2,586.5,-90],['0.2',600.4,595.4,-45],['0.25',600.7,593,-50]];
const p12Labels=[['0.3',625.4,625.1,0],['0.4',620.8,624.5,-10],['0.5',618.7,624.5,-25],['0.6',616.7,624.3,-25],['0.7',615,624.3,-25],['0.7',606.7,620.6,-30],['0.8',611.2,618.3,-20],['0.6',611,615.1,-15],['0.5',609.6,614.5,-25],['0.4',606.5,615.8,-30],['0.3',603.8,616.8,-30],['0.2',601.7,617.3,-30],['0.1',607.3,606.8,-35],['0.2',615.2,601.7,-80],['0.3',617.2,601.2,-90],['0.4',619.3,601.2,-90],['0.5',621.5,601,-80],['0.6',624.1,600.2,50],['0.7',626.5,599.2,40],['0.1',605,591.9,15],['0.2',598.4,587.6,-90],['0.2',607.4,582.1,-50],['0.3',610.1,582.9,-55],['0.4',612.3,582.4,-50],['0.5',613.3,583.1,-30],['0.6',614.6,583.1,-30],['0.7',616.5,582.4,-30],['0.8',618.8,581.9,-30],['0.1',598.8,608.4,-70],['0.2',599,607.2,-50],['0.3',599,605.9,-60],['0.4',598.3,604.9,-60],['0.5',598.2,602.7,-80]];

// ---- Dark convergence spots: [x, y, size] ----
const p6Spots=[[598.7,609.7,23],[599.4,608.4,9]];
const p7Spots=[[594,621.5,11]];
const p8Spots=[[594.1,622.1,9]];

// ---- Look ----
const RYB=['#4272b5','#6a9fcc','#a3cfe5','#d9eff2','#fffcc0','#fedf8e','#fdac5f','#f46c41','#e0432c'];
const SPEC=['#3a87bd','#4aa3b5','#5cb5ac','#85cca7','#b5e0a4','#d9eea0','#eef7a8','#ffffbd','#ffeb9e','#fed586','#fdbf70','#fba55c','#f67f4d','#ee6238','#e0432e'];
const SPEC7=['#3a87bd','#4aa0b5','#5bb5aa','#75c3a8','#97d2a6','#bbe3a3','#d3eca1','#e6f4a4','#f2f8ac','#fafcb4','#ffffbd','#fff2a8','#fee596','#fed586','#fdc878','#fdb96c','#fba55c','#f88c52','#f47547','#ea5a38','#e0432e'];
function hexRgb(h){return [1,3,5].map(i=>parseInt(h.substr(i,2),16));}
function ramp(pal,t){t=Math.max(0,Math.min(1,t));const p=t*(pal.length-1),i=Math.min(pal.length-2,Math.floor(p)),f=p-i;
  const a=hexRgb(pal[i]),b=hexRgb(pal[i+1]);return 'rgb('+a.map((v,k)=>Math.round(v+(b[k]-v)*f)).join(',')+')';}

const panels=[
 {box:[134.4,11,411.5,465],bar:[558.3,127,18,229],fx:10.3,fy:10.7,fb:9.5,pal:RYB,labels:p5Bar,base:0.02,regions:p5Regions,dotted:p5Dotted,dashed:p5Dashed,text:p5Labels,spots:[],
  compass:[627.8,625.2,38,34,'#cfd2d6'],num:['5',627.9,585,26],name:['P₂O₅',626.3,580.2,17,false],lf:'bold 12px',lc:'#16303c'},
 {box:[673,14,416,441],bar:[1100.2,172,17.6,236],fx:10.5,fy:12,fb:10,pal:SPEC,labels:p6Bar,base:0.05,regions:p6Regions,dotted:p6Dotted,dashed:p6Dashed,text:p6Labels,spots:p6Spots,
  compass:[627.6,624.4,39,34,'#dcdcdc'],num:['6',628,586.5,28],name:['Cl',625.1,581.8,18,false],lf:'13px',lc:'#2d5c58'},
 {box:[148.5,527,400,384],bar:[561.7,663,16.2,219],fx:10,fy:12,fb:9.5,pal:SPEC7,labels:p7Bar,base:0.1,regions:p7Regions,dotted:p7Dotted,dashed:p7Dashed,text:p7Labels,spots:p7Spots,
  compass:[627.8,624.2,40,34,'#cdd3d3'],num:['7',627.8,586.3,26],name:['SO₃',625.5,581.1,18,false],lf:'11px',lc:'#2d5450'},
 {box:[687,519,387,387],bar:[1090.7,607,16.3,217],fx:9.6,fy:11.8,fb:9.5,pal:RYB,labels:p8Bar,base:43.4,regions:p8Regions,dotted:p8Dotted,dashed:p8Dashed,text:p8Labels,spots:p8Spots,
  compass:[598.5,582.6,40,34,'#7f8fa8'],num:['8',628.6,584.9,28],name:['LOI',627,579.6,18,false],lf:'11px',lc:'#4c5a52'},
 {box:[87,948,442,368],bar:[540,1083,19.6,194],fx:10.7,fy:10.5,fb:10.5,pal:SPEC,labels:p9Bar,base:0.045,regions:p9Regions,dotted:p9Dotted,dashed:p9Dashed,text:p9Labels,spots:[],
  compass:[598.8,582.4,47,32,'#7f8fa8'],num:['9',628.2,585.6,24],name:['Fe₂O₃',626.3,579.3,23,true],lf:'bold 12.5px',lc:'#17302c'},
 {box:[681.4,951,470.6,365],bar:[1169.3,1038,25.5,224],fx:11,fy:12.5,fb:10.5,pal:SPEC,labels:p10Bar,base:0.1,regions:p10Regions,dotted:p10Dotted,dashed:p10Dashed,text:p10Labels,spots:[],
  compass:[627.5,624.5,47,31,'#a4acb8'],num:['10',627.7,585.6,26],name:['Al₂O₃',625.9,579.9,24,true],lf:'bold 12.5px',lc:'#17302c'},
 {box:[83,1360,452,360],bar:[547,1491,19,202],fx:11.5,fy:12.5,fb:10,pal:RYB,labels:p11Bar,base:0.15,regions:p11Regions,dotted:p11Dotted,dashed:p11Dashed,text:p11Labels,spots:[],
  compass:[598.9,624.4,46,32,'#dde0e4'],num:['11',625.9,585,26],name:['MgO',624.4,580.3,21,false],lf:'bold 12.5px',lc:'#1c2c3c'},
 {box:[681,1357,462.6,360],bar:[1169,1446,21.5,219],fx:11.5,fy:12.5,fb:10,pal:RYB,labels:p12Bar,base:0.1,regions:p12Regions,dotted:p12Dotted,dashed:p12Dashed,text:p12Labels,spots:[],
  compass:[598.6,624.8,42,31,'#d8dade'],num:['12',598.9,583.6,28],name:['SiO₂',599,579.5,22,false],lf:'bold 12.5px',lc:'#1c2c3c'}
];

const FONT='"Liberation Sans",Arial,sans-serif', WIDE='"DejaVu Sans",sans-serif', SERIF='"Liberation Serif","DejaVu Serif",serif';
const RED='#bd1620';
const grid=[],xAxis=[],yAxis=[],series=[];

function compassGroup(api,c){
  const [cx,cy]=api.coord([c[0],c[1]]),rx=c[2],ry=c[3],tint=c[4],kids=[];
  const poly=(pts,fill)=>kids.push({type:'polygon',shape:{points:pts.map(p=>[cx+p[0],cy+p[1]])},style:{fill}});
  [[-.8,-.66],[-.4,-.66],[.4,-.66],[.8,-.66],[-.8,-.33],[.8,-.33],[-.8,.33],[.8,.33],[-.8,.66],[-.4,.66],[.4,.66],[.8,.66]].forEach(d=>{
    const x=d[0]*rx,y=d[1]*ry;poly([[x-3,y-.7],[x+3,y-.7],[x+3,y+.7],[x-3,y+.7]],'#2c5560');});
  for(let a=22.5;a<360;a+=45){const r=a*Math.PI/180,ux=Math.cos(r),uy=Math.sin(r),Lx=.8*rx,Ly=.8*ry;
    poly([[ux*Lx,uy*Ly],[-uy*3.6,ux*3.6],[uy*3.6,-ux*3.6]],(Math.round(a/45)%2)?tint:'#ffffff');}
  poly([[0,-ry],[3,-3],[0,0]],'#000');poly([[0,-ry],[-3,-3],[0,0]],'#fff');
  poly([[0,ry],[-3,3],[0,0]],'#000');poly([[0,ry],[3,3],[0,0]],'#fff');
  poly([[rx,0],[3,-3],[0,0]],'#000');poly([[rx,0],[3,3],[0,0]],'#fff');
  poly([[-rx,0],[-3,3],[0,0]],'#000');poly([[-rx,0],[-3,-3],[0,0]],'#fff');
  [[0,-ry-3],[0,ry+3],[rx+3,0],[-rx-3,0]].forEach(d=>poly([[d[0]-1.3,d[1]-1.3],[d[0]+1.3,d[1]-1.3],[d[0]+1.3,d[1]+1.3],[d[0]-1.3,d[1]+1.3]],'#1c4450'));
  return {type:'group',children:kids};
}

panels.forEach((p)=>{
  const gi=grid.length;
  grid.push({left:p.box[0],top:p.box[1],width:p.box[2],height:p.box[3],show:true,borderColor:'#6b7b87',borderWidth:1.5,backgroundColor:'#fff',containLabel:false});
  const tick={show:true,length:6,lineStyle:{color:'#7d8790',width:1}};
  const fmt=v=>{const r=Math.round(v);return (r%5===0&&Math.abs(v-r)<1e-6)?String(r*1000):'';};
  const lab=(size)=>({show:true,fontFamily:WIDE,fontWeight:'bold',fontSize:size,color:'#5c5c5c',margin:8,showMinLabel:true,showMaxLabel:true,formatter:fmt});
  xAxis.push({type:'value',gridIndex:gi,position:'bottom',min:xRange[0],max:xRange[1],splitNumber:8,axisLine:{show:false},axisTick:tick,axisLabel:lab(p.fx),splitLine:{show:false}});
  xAxis.push({type:'value',gridIndex:gi,position:'top',min:xRange[0],max:xRange[1],splitNumber:8,axisLine:{show:false},axisTick:tick,axisLabel:{show:false},splitLine:{show:false}});
  yAxis.push({type:'value',gridIndex:gi,position:'left',min:yRange[0],max:yRange[1],splitNumber:11,axisLine:{show:false},axisTick:tick,axisLabel:lab(p.fy),splitLine:{show:false}});
  yAxis.push({type:'value',gridIndex:gi,position:'right',min:yRange[0],max:yRange[1],splitNumber:11,axisLine:{show:false},axisTick:tick,axisLabel:{show:false},splitLine:{show:false}});
  const xi=xAxis.length-2, yi=yAxis.length-2;
  const step=(parseFloat(p.labels[p.labels.length-1])-parseFloat(p.labels[0]))/(p.labels.length-1);
  const colourOf=v=>ramp(p.pal,((v-parseFloat(p.labels[0]))/step)/(p.labels.length-1));
  const stroke=p.pal===RYB?'#34505c':'#2b5a5a';
  // base fill and contour bands
  const bands=[[p.base,[500,500,700,500,700,700,500,700]]].concat(p.regions);
  series.push({type:'custom',xAxisIndex:xi,yAxisIndex:yi,clip:true,silent:true,z:1,animation:false,
    data:bands.map((r,i)=>[xRange[0],yRange[0],i]),
    renderItem:(params,api)=>{const r=bands[params.dataIndex],pts=[];
      for(let k=0;k<r[1].length;k+=2)pts.push(api.coord([r[1][k],r[1][k+1]]));
      return {type:'polygon',shape:{points:pts,smooth:params.dataIndex===0?0:0.42},
        style:{fill:colourOf(r[0]),stroke:params.dataIndex===0?null:stroke,lineWidth:1}};}});
  if(p.spots.length)series.push({type:'scatter',xAxisIndex:xi,yAxisIndex:yi,silent:true,z:2,animation:false,clip:true,
    data:p.spots,symbolSize:v=>[v[2],v[2]*.72],itemStyle:{color:'#0b0b0b',shadowBlur:5,shadowColor:'rgba(0,0,0,.7)'}});
  // compass (below the boundaries)
  series.push({type:'custom',xAxisIndex:xi,yAxisIndex:yi,silent:true,z:3,animation:false,data:[[p.compass[0],p.compass[1]]],
    renderItem:(params,api)=>compassGroup(api,p.compass)});
  // contour labels
  series.push({type:'custom',xAxisIndex:xi,yAxisIndex:yi,silent:true,z:4,animation:false,data:p.text.map(t=>[t[1],t[2]]),
    renderItem:(params,api)=>{const t=p.text[params.dataIndex],c=api.coord([t[1],t[2]]);
      return {type:'text',x:c[0],y:c[1],rotation:t[3]*Math.PI/180,
        style:{text:t[0],font:p.lf+' '+FONT,fill:p.lc,align:'center',verticalAlign:'middle'}};}});
  // red boundaries
  series.push({type:'line',xAxisIndex:xi,yAxisIndex:yi,silent:true,z:5,animation:false,symbol:'none',smooth:0.4,clip:false,data:p.dotted,
    lineStyle:{color:RED,width:4.8,type:[4.8,4.2]}});
  series.push({type:'line',xAxisIndex:xi,yAxisIndex:yi,silent:true,z:5,animation:false,symbol:'none',smooth:0.4,clip:false,data:p.dashed,
    lineStyle:{color:RED,width:4.2,type:[17,10]}});
  // panel number and oxide name
  const titles=[[p.num[0],p.num[1],p.num[2],p.num[3],true],p.name];
  series.push({type:'custom',xAxisIndex:xi,yAxisIndex:yi,silent:true,z:6,animation:false,data:titles.map(t=>[t[1],t[2]]),
    renderItem:(params,api)=>{const t=titles[params.dataIndex],c=api.coord([t[1],t[2]]);
      return {type:'text',x:c[0],y:c[1],style:{text:t[0],font:(t[4]?'bold ':'')+t[3]+'px '+SERIF,fill:'#14181c',align:'center',verticalAlign:'middle'}};}});
  // colour bar
  const bi=grid.length;
  grid.push({left:p.bar[0],top:p.bar[1],width:p.bar[2],height:p.bar[3],show:false});
  xAxis.push({type:'value',gridIndex:bi,min:0,max:1,show:false});
  yAxis.push({type:'category',gridIndex:bi,position:'right',boundaryGap:false,data:p.labels.concat(['']),
    axisLine:{show:false},axisTick:{show:false},splitLine:{show:false},
    axisLabel:{interval:0,fontFamily:FONT,fontSize:p.fb,fontWeight:'bold',color:'#444',margin:3}});
  const xb=xAxis.length-1,yb=yAxis.length-1;
  series.push({type:'custom',xAxisIndex:xb,yAxisIndex:yb,silent:true,z:2,animation:false,data:p.labels.map((l,i)=>[0,i]),
    renderItem:(params,api)=>{const i=params.dataIndex,a=api.coord([0,i]),b=api.coord([1,i+1]);
      return {type:'rect',shape:{x:a[0],y:b[1],width:b[0]-a[0],height:a[1]-b[1]},
        style:{fill:ramp(p.pal,i/(p.labels.length-1)),stroke:'#3e4c4c',lineWidth:0.8}};}});
});

const chart=echarts.init(document.getElementById('c'),null,{renderer:'canvas'});
chart.setOption({animation:false,backgroundColor:'#fff',grid,xAxis,yAxis,series});
</script></body></html>
